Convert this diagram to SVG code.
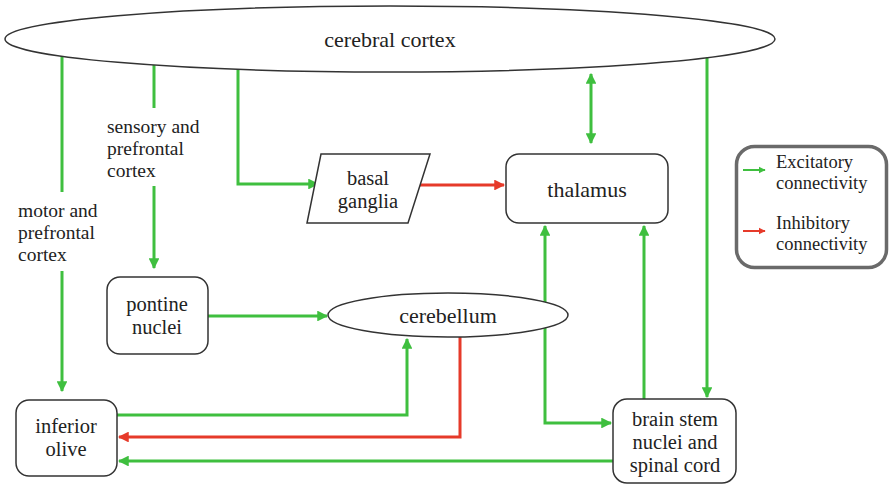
<svg xmlns="http://www.w3.org/2000/svg" width="889" height="485" viewBox="0 0 889 485">
  <defs>
    <marker id="ag" viewBox="0 0 10 10" refX="9" refY="5" markerWidth="3.6" markerHeight="3.6" orient="auto-start-reverse" markerUnits="strokeWidth">
      <path d="M0,0 L10,5 L0,10 Z" fill="#3fbf3f"/>
    </marker>
    <marker id="ar" viewBox="0 0 10 10" refX="9" refY="5" markerWidth="3.6" markerHeight="3.6" orient="auto-start-reverse" markerUnits="strokeWidth">
      <path d="M0,0 L10,5 L0,10 Z" fill="#e63a2a"/>
    </marker>
    <style>
      .node { fill: #fff; stroke: #333; stroke-width: 1.5; }
      .lbl { font-family: "Liberation Serif", "Times New Roman", serif; font-size: 22px; fill: #222; text-anchor: middle; }
      .lbl2 { font-family: "Liberation Serif", "Times New Roman", serif; font-size: 20.5px; fill: #222; text-anchor: middle; }
      .side { font-family: "Liberation Serif", "Times New Roman", serif; font-size: 19.5px; fill: #222; }
      .leg { font-family: "Liberation Serif", "Times New Roman", serif; font-size: 18.5px; fill: #222; }
      .ex { fill: none; stroke: #3fbf3f; stroke-width: 3; marker-end: url(#ag); }
      .ex0 { fill: none; stroke: #3fbf3f; stroke-width: 3; }
      .in { fill: none; stroke: #e63a2a; stroke-width: 3; marker-end: url(#ar); }
    </style>
  </defs>
  <rect width="889" height="485" fill="#fff"/>

  <g id="connectors">
    <!-- motor and prefrontal cortex -> inferior olive -->
    <path class="ex0" d="M62,55 V192"/>
    <path class="ex" d="M62,271 V391"/>
    <!-- sensory and prefrontal cortex -> pontine nuclei -->
    <path class="ex0" d="M154,62 V108"/>
    <path class="ex" d="M154,186 V268"/>
    <!-- cortex -> basal ganglia -->
    <path class="ex" d="M238,67 V184 H318"/>
    <!-- cortex <-> thalamus -->
    <path class="ex" d="M591,74 V143" style="marker-start:url(#ag)"/>
    <!-- cortex -> brain stem -->
    <path class="ex" d="M707,56 V397"/>
    <!-- basal ganglia -> thalamus -->
    <path class="in" d="M419,185 H504"/>
    <!-- pontine nuclei -> cerebellum -->
    <path class="ex" d="M208,316 H327"/>
    <!-- cerebellum -> thalamus and brain stem -->
    <path class="ex" d="M545,226 V423 H611" style="marker-start:url(#ag)"/>
    <!-- brain stem -> thalamus -->
    <path class="ex" d="M644,399 V226"/>
    <!-- inferior olive -> cerebellum -->
    <path class="ex" d="M117,415 H407 V339"/>
    <!-- cerebellum -> inferior olive (inhibitory) -->
    <path class="in" d="M460,337 V437 H119"/>
    <!-- brain stem -> inferior olive -->
    <path class="ex" d="M613,461 H119"/>
  </g>

  <g id="cerebral-cortex">
    <ellipse class="node" cx="390" cy="39" rx="385" ry="33"/>
    <text class="lbl" x="390" y="47">cerebral cortex</text>
  </g>

  <g id="label-sensory">
    <text class="side" x="107" y="133">sensory and</text>
    <text class="side" x="107" y="155">prefrontal</text>
    <text class="side" x="107" y="177">cortex</text>
  </g>

  <g id="label-motor">
    <text class="side" x="18" y="217">motor and</text>
    <text class="side" x="18" y="239">prefrontal</text>
    <text class="side" x="18" y="261">cortex</text>
  </g>

  <g id="basal-ganglia">
    <polygon class="node" points="321,154 430,154 408,223 307,223"/>
    <text class="lbl2" x="368" y="185">basal</text>
    <text class="lbl2" x="368" y="208">ganglia</text>
  </g>

  <g id="thalamus">
    <rect class="node" x="506" y="154" width="162" height="69" rx="13"/>
    <text class="lbl" x="587" y="197">thalamus</text>
  </g>

  <g id="pontine-nuclei">
    <rect class="node" x="107" y="277" width="101" height="77" rx="13"/>
    <text class="lbl2" x="157" y="311">pontine</text>
    <text class="lbl2" x="157" y="334">nuclei</text>
  </g>

  <g id="cerebellum">
    <ellipse class="node" cx="448" cy="315" rx="120" ry="22"/>
    <text class="lbl" x="448" y="323">cerebellum</text>
  </g>

  <g id="inferior-olive">
    <rect class="node" x="16" y="400" width="101" height="76" rx="13"/>
    <text class="lbl2" x="66" y="433">inferior</text>
    <text class="lbl2" x="66" y="456">olive</text>
  </g>

  <g id="brain-stem">
    <rect class="node" x="613" y="399" width="123" height="84" rx="14"/>
    <text class="lbl2" x="675" y="426">brain stem</text>
    <text class="lbl2" x="675" y="449">nuclei and</text>
    <text class="lbl2" x="675" y="472">spinal cord</text>
  </g>

  <g id="legend">
    <rect x="736.5" y="146.5" width="150" height="121" rx="18" fill="#fff" stroke="#6a6a6a" stroke-width="3.5"/>
    <path d="M743,170 H765" fill="none" stroke="#3fbf3f" stroke-width="2" marker-end="url(#ag)"/>
    <text class="leg" x="776" y="168">Excitatory</text>
    <text class="leg" x="776" y="189">connectivity</text>
    <path d="M743,231 H765" fill="none" stroke="#e63a2a" stroke-width="2" marker-end="url(#ar)"/>
    <text class="leg" x="776" y="229">Inhibitory</text>
    <text class="leg" x="776" y="250">connectivity</text>
  </g>
</svg>
